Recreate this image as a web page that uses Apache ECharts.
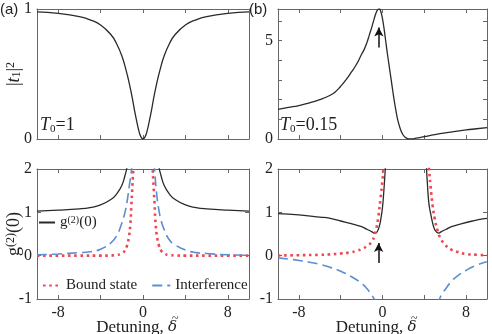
<!DOCTYPE html>
<html>
<head>
<meta charset="utf-8">
<script src="https://cdn.jsdelivr.net/npm/echarts@6/dist/echarts.min.js"></script>
<style>
html, body { margin: 0; padding: 0; background: #fff; }
#main { width: 492px; height: 334px; }
</style>
</head>
<body>
<div id="main"></div>
<script>
// (a) top: |t1|^2, T0 = 1
const detT1a = [-10, -8, -6, -5, -4, -3, -2.5, -2, -1.6, -1.3, -1, -0.8, -0.6, -0.4, -0.2, 0, 0.2, 0.4, 0.6, 0.8, 1, 1.3, 1.6, 2, 2.5, 3, 4, 5, 6, 8, 10]
const valT1a = [0.978, 0.966, 0.941, 0.917, 0.877, 0.80, 0.735, 0.64, 0.53, 0.43, 0.31, 0.22, 0.14, 0.066, 0.017, 0, 0.017, 0.066, 0.14, 0.22, 0.31, 0.43, 0.53, 0.64, 0.735, 0.80, 0.877, 0.917, 0.941, 0.966, 0.978]

// (b) top: |t1|^2, T0 = 0.15
const detT1b = [-10, -9, -8, -7, -6, -5, -4.5, -4, -3.5, -3, -2.5, -2, -1.75, -1.5, -1.25, -1, -0.8, -0.6, -0.45, -0.3, -0.15, 0, 0.15, 0.3, 0.45, 0.6, 0.75, 0.9, 1.05, 1.2, 1.35, 1.5, 1.7, 1.9, 2.1, 2.3, 2.5, 2.8, 3.2, 4, 5, 6, 7, 8, 9, 10]
const valT1b = [1.50, 1.60, 1.70, 1.84, 2.0, 2.22, 2.4, 2.68, 3.0, 3.38, 3.78, 4.3, 4.55, 4.88, 5.3, 5.72, 6.1, 6.42, 6.57, 6.6, 6.45, 6.1, 5.6, 5.0, 4.4, 3.85, 3.3, 2.75, 2.2, 1.7, 1.25, 0.88, 0.52, 0.27, 0.12, 0.04, 0.01, 0.01, 0.04, 0.12, 0.22, 0.31, 0.39, 0.46, 0.52, 0.58]

// (a) bottom
const detGa = [-10, -8, -6, -5, -4, -3, -2.5, -2, -1.7, -1.5, -1.3, -1, -0.5, 0, 0.5, 1, 1.3, 1.5, 1.7, 2, 2.5, 3, 4, 5, 6, 8, 10]
const valGa = [1.03, 1.05, 1.08, 1.11, 1.17, 1.30, 1.42, 1.62, 1.85, 2.05, 2.4, 3.2, 6, 8, 6, 3.2, 2.4, 2.05, 1.85, 1.62, 1.42, 1.30, 1.17, 1.11, 1.08, 1.05, 1.03]
const detBa = [-10, -8, -6, -4, -3, -2.5, -2, -1.7, -1.5, -1.35, -1.2, -1.1, -1, -0.9, -0.7, 0, 0.7, 0.9, 1, 1.1, 1.2, 1.35, 1.5, 1.7, 2, 2.5, 3, 4, 6, 8, 10]
const valBa = [0, 0, 0, 0, 0.005, 0.015, 0.05, 0.12, 0.24, 0.4, 0.7, 1.15, 1.6, 2.1, 3.5, 6, 3.5, 2.1, 1.6, 1.15, 0.7, 0.4, 0.24, 0.12, 0.05, 0.015, 0.005, 0, 0, 0, 0]
const detIa = [-10, -8, -6, -5, -4, -3, -2.5, -2, -1.7, -1.5, -1.3, -1.1, -0.9, 0, 0.9, 1.1, 1.3, 1.5, 1.7, 2, 2.5, 3, 4, 5, 6, 8, 10]
const valIa = [0.02, 0.04, 0.07, 0.09, 0.15, 0.3, 0.45, 0.75, 1.0, 1.25, 1.6, 1.95, 2.5, 6, 2.5, 1.95, 1.4, 1.05, 0.82, 0.6, 0.36, 0.25, 0.13, 0.07, 0.05, 0.02, 0.01]

// (b) bottom
const detGb = [-10, -8, -6, -5, -4, -3, -2, -1.5, -1, -0.8, -0.6, -0.45, -0.3, -0.15, 0, 0.1, 0.2, 0.3, 0.5, 1, 2.3, 3.6, 4.1, 4.2, 4.3, 4.4, 4.5, 4.6, 4.7, 4.85, 5.0, 5.15, 5.4, 5.6, 6.1, 6.6, 7.6, 8.6, 9.6, 10]
const valGb = [0.97, 0.94, 0.89, 0.86, 0.8, 0.74, 0.67, 0.61, 0.55, 0.52, 0.53, 0.58, 0.68, 0.86, 1.12, 1.4, 1.75, 2.15, 3.2, 6, 8, 6, 3.2, 2.1, 1.65, 1.3, 1.1, 0.98, 0.86, 0.7, 0.6, 0.55, 0.52, 0.55, 0.61, 0.67, 0.74, 0.8, 0.85, 0.86]
const detBb = [-10, -8, -6, -5, -4, -3, -2.5, -2, -1.5, -1, -0.8, -0.6, -0.4, -0.2, 0, 0.1, 0.3, 1, 2.3, 3.6, 4.3, 4.45, 4.6, 4.8, 5.0, 5.3, 5.6, 6, 6.5, 7, 8, 9, 10]
const valBb = [0.005, 0.01, 0.02, 0.03, 0.05, 0.08, 0.11, 0.15, 0.22, 0.33, 0.45, 0.62, 0.9, 1.3, 1.75, 2.05, 3.0, 6, 8, 6, 2.4, 2.0, 1.6, 1.15, 0.85, 0.55, 0.38, 0.25, 0.15, 0.1, 0.04, 0.02, 0.01]
const detIb = [-10, -9, -8, -7, -6, -5, -4, -3, -2, -1.5, -1, -0.8, -0.6, 0, 2.3, 4.8, 5.2, 5.46, 5.7, 6, 6.5, 7, 8, 9, 10]
const valIb = [-0.05, -0.08, -0.11, -0.15, -0.2, -0.27, -0.36, -0.48, -0.64, -0.76, -0.92, -1.0, -1.1, -1.6, -4, -1.6, -1.2, -1.0, -0.88, -0.78, -0.62, -0.5, -0.34, -0.22, -0.14]

// ticks / labels
const xTicks = [-8, -4, 0, 4, 8]
const xLabels = [-8, 0, 8]
const yTicksA = [0, 1]
const yTicksB = [0, 1, 2, 3, 4, 5, 6]
const yLabelsB = [0, 5]
const yTicksG = [-1, 0, 1, 2]

const serif = 'Liberation Serif'
const axisColor = '#666'
const textColor = '#222'

const pairs = (xs, ys) => xs.map((x, i) => [x, ys[i]])

const grids = [
  {left: 37, top: 9, width: 212, height: 130},
  {left: 278, top: 9, width: 209, height: 130},
  {left: 37, top: 169, width: 212, height: 130},
  {left: 278, top: 169, width: 209, height: 130}
].map(g => Object.assign({outerBoundsMode: 'none', containLabel: false}, g))

const richText = {
  n: {fontFamily: serif, fontSize: 18, color: textColor},
  x: {fontFamily: serif, fontSize: 17, color: textColor},
  i: {fontFamily: serif, fontSize: 18, fontStyle: 'italic', color: textColor},
  d: {fontFamily: 'DejaVu Serif', fontSize: 15, fontStyle: 'italic', color: textColor},
  sub: {fontFamily: serif, fontSize: 12, color: textColor, verticalAlign: 'bottom'},
  sup: {fontFamily: serif, fontSize: 12, color: textColor, verticalAlign: 'top'}
}

function xAxesFor (gi, withLabels) {
  const base = {
    type: 'value', gridIndex: gi, min: -10, max: 10,
    splitLine: {show: false},
    axisLine: {show: true, onZero: false, lineStyle: {color: axisColor, width: 1}},
    axisTick: {inside: true, length: 4, customValues: xTicks, lineStyle: {color: axisColor}}
  }
  const bottom = Object.assign({}, base, {
    position: 'bottom',
    axisLabel: {show: withLabels, customValues: xLabels, margin: 6, fontFamily: serif, fontSize: 16, color: textColor}
  })
  if (withLabels) {
    // trailing spaces push the centred name a little to the left, as in the figure
    bottom.name = '{x|Detuning, }{d|δ}{x|   }'
    bottom.nameLocation = 'middle'
    bottom.nameGap = 20
    bottom.nameMoveOverlap = false
    bottom.nameTextStyle = {fontFamily: serif, fontSize: 17, color: textColor, rich: richText}
  }
  const top = Object.assign({}, base, {position: 'top', axisLabel: {show: false}})
  return [bottom, top]
}

function yAxesFor (gi, min, max, ticks, labels, name) {
  const base = {
    type: 'value', gridIndex: gi, min: min, max: max,
    splitLine: {show: false},
    axisLine: {show: true, onZero: false, lineStyle: {color: axisColor, width: 1}},
    axisTick: {inside: true, length: 4, customValues: ticks, lineStyle: {color: axisColor}}
  }
  const left = Object.assign({}, base, {
    position: 'left',
    axisLabel: {customValues: labels, margin: 5, fontFamily: serif, fontSize: 16, color: textColor}
  })
  if (name) {
    left.name = name
    left.nameLocation = 'middle'
    left.nameRotate = 90
    left.nameGap = 14
    left.nameMoveOverlap = false
    left.nameTextStyle = {fontFamily: serif, fontSize: 18, color: textColor, rich: richText}
  }
  const right = Object.assign({}, base, {position: 'right', axisLabel: {show: false}})
  return [left, right]
}

function line (name, gi, data, color, width, type) {
  return {
    name: name, type: 'line', xAxisIndex: gi * 2, yAxisIndex: gi * 2,
    data: data, showSymbol: false, symbol: 'none', smooth: 0.5,
    lineStyle: {color: color, width: width, type: type || 'solid', cap: 'butt'},
    itemStyle: {color: color},
    z: 3
  }
}

function arrow (x, y0, y1) {
  return {
    silent: true, animation: false,
    symbol: ['none', 'arrow'], symbolSize: [7, 9],
    label: {show: false},
    lineStyle: {color: '#111', width: 1.5, type: 'solid'},
    data: [[{coord: [x, y0]}, {coord: [x, y1]}]]
  }
}

const black = '#2a2a2a'
const red = '#f04552'
const blue = '#5b8fd0'

const redDot = [2.6, 3.6]
const blueDash = [10, 5]

const sT1b = line('t1b', 1, pairs(detT1b, valT1b), black, 1.3)
sT1b.markLine = arrow(-0.35, 4.64, 5.66)
const sGb = line('g2', 3, pairs(detGb, valGb), black, 1.3)
sGb.markLine = arrow(-0.37, -0.17, 0.29)

// tilde over the delta of the axis names
const tilde = (left) => ({type: 'text', left: left, top: 313, z: 10, style: {text: '~', fontFamily: serif, fontSize: 12, fill: textColor}})

const option = {
  animation: false,
  backgroundColor: '#fff',
  grid: grids,
  xAxis: [].concat(xAxesFor(0, false), xAxesFor(1, false), xAxesFor(2, true), xAxesFor(3, true)),
  yAxis: [].concat(
    yAxesFor(0, 0, 1, yTicksA, yTicksA, '{n||}{i|t}{sub|1}{n||}{sup|2}'),
    yAxesFor(1, 0, 6.6, yTicksB, yLabelsB),
    yAxesFor(2, -1, 2, yTicksG, yTicksG, '{n|g}{sup|(2)}{n|(0)}'),
    yAxesFor(3, -1, 2, yTicksG, yTicksG)
  ),
  legend: [
    {
      left: 38, top: 215, data: ['g2'], selectedMode: false,
      itemWidth: 16, itemHeight: 10, padding: 0,
      itemStyle: {opacity: 0},
      formatter: () => '{n|g}{sup|(2)}{n|(0)}',
      textStyle: {fontFamily: serif, fontSize: 14, color: textColor, rich: {
        n: {fontFamily: serif, fontSize: 15, color: textColor},
        sup: {fontFamily: serif, fontSize: 10, color: textColor, verticalAlign: 'top'}
      }}
    },
    {
      left: 42, top: 278, data: ['Bound state', 'Interference'], selectedMode: false,
      itemWidth: 18, itemHeight: 10, itemGap: 14, padding: 0,
      itemStyle: {opacity: 0},
      textStyle: {fontFamily: serif, fontSize: 15, color: textColor}
    }
  ],
  graphic: [
    {type: 'text', left: 0, top: 2, style: {text: '(a)', fontFamily: 'Liberation Sans', fontSize: 15, fill: textColor}},
    {type: 'text', left: 249, top: 2, style: {text: '(b)', fontFamily: 'Liberation Sans', fontSize: 15, fill: textColor}},
    {type: 'text', left: 40, top: 116, style: {text: '{i|T}{sub|0}{n|=1}', rich: {
      i: {fontFamily: serif, fontSize: 18, fontStyle: 'italic', fill: textColor, lineHeight: 20},
      sub: {fontFamily: serif, fontSize: 11, fill: textColor, verticalAlign: 'bottom', lineHeight: 20},
      n: {fontFamily: serif, fontSize: 18, fill: textColor, lineHeight: 20}
    }}},
    {type: 'text', left: 280, top: 116, style: {text: '{i|T}{sub|0}{n|=0.15}', rich: {
      i: {fontFamily: serif, fontSize: 18, fontStyle: 'italic', fill: textColor, lineHeight: 20},
      sub: {fontFamily: serif, fontSize: 11, fill: textColor, verticalAlign: 'bottom', lineHeight: 20},
      n: {fontFamily: serif, fontSize: 18, fill: textColor, lineHeight: 20}
    }}},
    tilde(172),
    tilde(411)
  ],
  series: [
    line('t1a', 0, pairs(detT1a, valT1a), black, 1.3),
    sT1b,
    line('g2', 2, pairs(detGa, valGa), black, 1.3),
    line('Bound state', 2, pairs(detBa, valBa), red, 2.6, redDot),
    line('Interference', 2, pairs(detIa, valIa), blue, 1.6, blueDash),
    sGb,
    line('Bound state', 3, pairs(detBb, valBb), red, 2.6, redDot),
    line('Interference', 3, pairs(detIb, valIb), blue, 1.6, blueDash)
  ]
}

const chart = echarts.init(document.getElementById('main'))
chart.setOption(option)
</script>
</body>
</html>
